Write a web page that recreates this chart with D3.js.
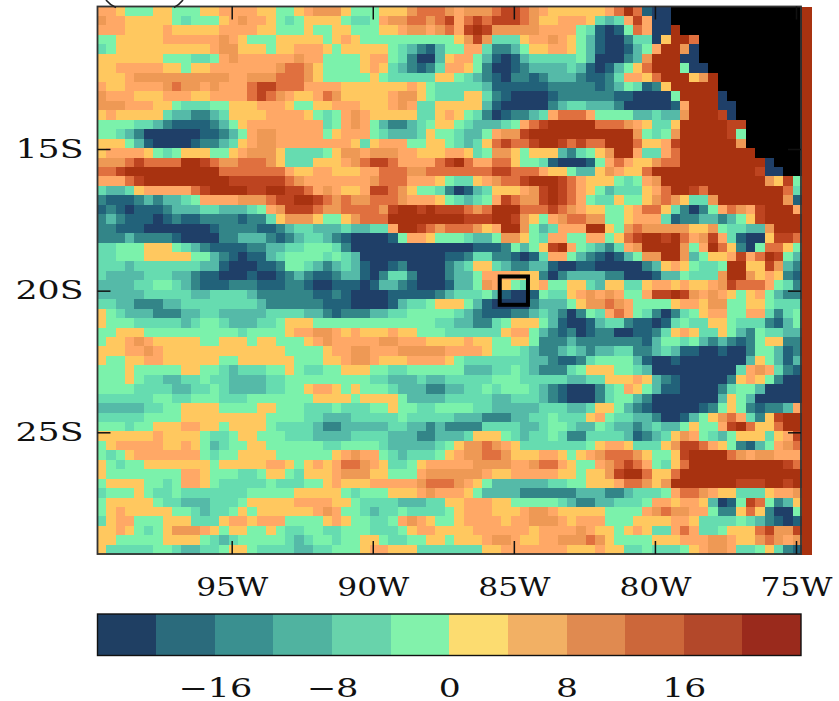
<!DOCTYPE html>
<html>
<head>
<meta charset="utf-8">
<script src="https://cdn.jsdelivr.net/npm/d3@7"></script>
<style>
html,body{margin:0;padding:0;background:#fff;overflow:hidden}
svg{display:block}
text{font-family:"DejaVu Serif","Liberation Serif",serif;fill:#111}
</style>
</head>
<body>
<svg id="chart" width="839" height="701"></svg>
<script>
// Class codes: A..L = the 12 colour classes of the chart, # = land (no data)
const classCodes = "ABCDEFGHIJKL".split("");
const classValues = [-22,-18,-14,-10,-6,-2,2,6,10,14,18,22];
const levelBreaks = [-20,-16,-12,-8,-4,0,4,8,12,16,20];
const mapColors = ["#1f3f68","#22627a","#338588","#55baa8","#66dcb0","#7bf2ab","#ffc85f","#ffa866","#ee9955","#e0703f","#bd4420","#a83210"];
const barColors = ["#1f3f63","#2b6b7c","#3a9090","#50b3a0","#68d3ab","#82f2ab","#fcdc70","#f2b064","#e08a50","#cc673a","#b3482a","#9a2a1c"];
const lonTicks = [-95,-90,-85,-80,-75];
const latTicks = [-15,-20,-25];
const barTicks = [-16,-8,0,8,16];
const boxCentre = [-85,-20];
const cellStep = 1/3;
const westEdge = -99.78;
const northEdge = -9.97;
const gridRows = [
"HHGFFFGGFFFGGHHHHGGFFGHIIIGFFFGGGIJJJIHIIIJKKJIHGGGGGGHJLJBAA##############L",
"IHHGGGGGFEFFFGHIHHGFEFGGGGFEEFHIIJJIJKHJKJKKKJIGGHHHGEDEHKHAA##############L",
"HHHGGGGHGGGGGHHHHGGFFFGFFGGFFFGGHIIHIJHKLKIIIIIHHHHFEBABFJHAAL#############L",
"FFGGGGGHHHHHHIHGFFFGGGGGFGHGFFFFFFFFFFGIKIEEEGHHIHGFDBAACEEAGLLJ###########L",
"EFGGGGGGGGGGHIIGGGFGGHHHGFGGGGGFEDCBDFFHHECCDFGGHHGFDBAABDFHLLIA###########L",
"GGGGGGGFFFEEFHIHHHHHHIHHFFFFGHHFECAADGHHFDBABDEEEEEFDAAACDILLLAA###########L",
"GGHHHHHGGFGGHHHHHHHIJJIGFFFFGHGEDCBCEHHGFCAABCDDDDEDBABDFGJLLLFAA##########L",
"GGGHIIIIIIIIIIHHIIIJJJIGFFFFFGFEEEEEGGFEDCBACCBCDDDCBBCEHHGJLLLGIL#########L",
"HGGHHHHIJIIHIHHHJKKJJJHHHHGGGGGGGHGFEEEEEDBBBBBBCCCCCBCDFEBCGLLLLL#########L",
"IHHHGGGHHHGGHHHHJKJIHGGHJIGGGGGHIIGFEEEGGECBAAAABCCCCCCBBAAAAFLLLLA########L",
"IIIHHHGGFEEEFFGGGHHHGFFGGHHHGGGHIHEEGGGGGDBAAAAACDEEDDDCAAAAABHLLLAA#######L",
"GHGGGGGEDDCCDEGGGGHHHHGFEFHIHGGGGGEEGHGFECABCCDEHJJJHFFFFDDEDDILLLKA#######L",
"FFFFEEDCBBBBCDFGHHHHHHHHEFHIHFDCCDEFGGFEDDDEFHJKLLLLLJJJIHGEEGLLLLLKK######L",
"FFEDCAAAAAABBCDFHIIHHHHHFGHHHFEDDDEGFFEDDFHIIKLLLLLLLLLLLIFEFILLLLLKF######L",
"GGGFDBAAAABCCDEGHIIHHHHHHHHGEGHHHFFGGFEDEGJKJJKLLKJKJJLLLJGGHKLLLLLLI######L",
"GHHHHGFEFGGGFFGHIIIGEEEEFGIIHIIIHHGGGHHGEFIIGFGGGDCEFGILLHEEHJLLLLLLLL#####L",
"IIIJKJJJJLLKJIIJJJIGEEEGGGHIJKKJHHHHJKLJHHJJGFFEBAAABFHJHGGIJJLLLLLLLLLA###L",
"JJKLLLLLLLLLLJJJJJJJHGGHHGGGHHJJJIIJJJJJJJKKJJJHGGFDDGIHGGJLLLLLLLLLLLKAA##L",
"HHHJKLLLLLLLLLKKKKKKJIHHHHHHHIJJJHHHGFEEGHIJJKLLLKJHGGGFEFHILLLLLLLLLLLIGKFL",
"EDDEGHHHHHJKLLLLKKLLKKJHIHGGHKKJIGFFECABDEGGGHIKLKJHGFDEEEGHJLLKJLLLLLLLLJEL",
"CBBBCDCDDEFHHHHIIIJKKLLKJIJIIJJJIHHHGFEDEFHKJIIKLKJHFEEGFFGIJIGEEILLLLLLLIBL",
"BCBABBBCDDDEEDDDEFHIKKKJIIJJJJIKLLKLKKKJIJLLLJJJKJIHGGFFGHJJGECACFHJIHKLLLHL",
"CDCBBBABCBBCCCCBCCEGIIIGFFGIJJJLLLLLLLLKKKLLKIGFHIJJIIFFGHHHEBCCDDCDFGKLLLLL",
"CCBBBAAAAAAABCCCCBBCDEEDDDEDDEEHLLKJIJJJIGHLLIFDEHHHLLGFIJIIIIIGGIFEEDDILLLL",
"CCCDCCCCBAAAACCDDDCBCDEEDCBAAAABFHHGFFFEDDFIIGFEHHFFHHFGJKLLKLJHIKHEBAAGKKJL",
"EEFFFGGGFEDCBBBBCCDDEEFFFECAAAAAAAAAAAAABBBCFDFGKLHFEDCEHILLLLIFHLJGCAFJJGFL",
"EEFFFGGGGGFFDCBABBDEFFFFEFEDAAAAAAAAABBCEECCBABEHHFDCBABDFIILLIDFGGHKHJLKFDL",
"EEEDEEEEEEEDDBAAABBCFFEDCDEDBAABCAAAACDEGGEDCCDDBAABBAAAAACDGHGFEEFLLGGKIDCL",
"EDDDDEEEDDCBBAAABAABCDCBBCDDBACEECAAACDDFHHHHGGCACDDDDCCAAABDDFEEEILLIGHGCBL",
"DDDDEEFFEDCBBBCCCBBBCCBAABBBABDDCBAAABDDFIHGFEGHFFGGEDGGEEGHHGHGGHIKJJJHFECL",
"DDDDDEEEEEDDEEEEDCCCCCCBBCBAAAABBBBBCDEEEFDBAABFEEGHIHIHFFHKKLKIHIHGFGHFDCCL",
"EEDDCCCDDEEEEEEEEDCCCCCCBBBAAAABDEEFGGGFDBAAAACDDDFGIIJIHFFFFGHHGIIFFGGFEEEL",
"GFEDDDCCCDDEEDDDDDEEEEDDCBCCCDDEEFFFFFEDCBBBCCDEDCACFEHJHFECACEFGHHFFHHECEFL",
"GFFFEEEEEDEFFEDDDEEFGGGFFFFFFFFFFFFFEEDDCCEFGGGFDBAABDEECBBABEFEEGGFEEECBDFL",
"FFGGGFFFFFFFFFFEFFFFGHHIIHGHGGGHGGFFFEEEEEEGHHFDCBCABCCAABBCEGHGEEGFDCFEEDDL",
"FGGHIHGGGGGFFGGGFGGFFFGHIHHHHHIIHHHGGGGHGGFFGGFCCCDCCCCCCCBDFFEFDCDCBCFGGCCL",
"GGGHHIHGGGGGGGGGGGGGFFFFGHHIIHHHIIIIIHHHHGFFFEDCCDEDCDDEECCDEDBBAABAACFFDBCL",
"GFFGGHHGGGGGGFFGGGGGGFFFGGHIIHGGGHHHHGFEEEEEEEDDCBBCEFFFFDBAABAAAAAAADGFDBDL",
"FFFGFFFFFGGFFEDEEEFFGFEEFFGGGFFEEFFFFFFDDDEEFEDCCCEFGGGFFEDAAAAAAAAAEHIHECBL",
"FFFGFEEDDEEFEEDDDDEEFFFFFFFFFEEDDDEDDEEEEEFFFEEEEEDDEEGGGHGDCBAAAAACGHGFCAAL",
"FFFFEEEEDDEEFEDDDDEEFFGHHGFGFFFEDDDCCDDEEFEFFFEDCBAAACEFHGFDBBAAAACEFFDAAAAL",
"EEEEEEFFEEFFFEEEFFFFFFFGGGGFGGGGFDDDDEEEEEDDEEEDCBAAACEFFDCAAAAAAADGFDAAAAAL",
"DDDDDEEFFGGGGFFFFGGFFFEEEFEEEFFGFFEEFFFFEEDDDDDEEEDDEGGFDCBAAAAABCFGFCBCCDHL",
"EEEEEFFFFGGGGGGGGGFFFFEEDDDEEEEEFEEEEEDDDCCCDDEEFEEEGHFEEDDCAABDFGIJHECGKLLL",
"FFFEFFGGGHHGGFGGGGFEEEEDCCDDDDDEEDDCDCCCCEEEEDDEFFEDDFEDDCDEDDFGFFHKLJGGJLLL",
"GGGGGGHGGGGFEEFGGFFFEEEDDDDEEEEDDDCCDDDEGGGFEDEEFECCEEEEDBCDEGIHFEDFGGGEGHKL",
"FGHHHHHGGHGFDEFFGGFFFFFFEEFFFFEDDDDDEFGIIJIHGEEEEEEEFGHHGEEEGIKKJHGFCBDFHIJL",
"FEFGHHHHHHHFEFFGGGGFFFFFFGHIHHFEDEEEFGHIIJJIGGGHHGFGHIJJJIGFFGKLLLLJIHIIHHHL",
"GFEFFGGGGGGGFGGGGGHHGFGHGHJJIHGEEFGHHHHHIIIIHHIJJHGFFHIJKJHFEGJLLLLLLLLLLKJL",
"GFFFFFFFFHHGFFFEEFGGFEGGGHIIIGGFFFHIIIIIIHGGHHHHHGGFGGIKLLJGGJLLLLLLLLLLLLLL",
"FGGGGFFEFHHGFEEEEEFEEEFFGHGGGHHHHHIJJJIHGFDDDDDDEEFFGGGHJJIGILLLLLLLKKKLLKLL",
"EFFFGFEEFEEEEEEEFFFFFGGGGGFEFFFGGGHIHHHGFDDDDCCCCCCDDDCCDEEEFHJJIHGGEEEGHHIL",
"FGGGGGFEEDDDEEEFGGGGGHHHHGGFEEEEDDDEEGGHHHGGFFFFFEDCCDDEEEFHHGHHGDABFKJFCDGL",
"FGHGGGGGFFEDEEFGFGGGGGGHIHFFEDEEFEEEEFGHHHGGGHIIHGGGGGFFFFHIJIIHHFCCGJGCAAFL",
"EGHHFFFGGGEEEGHHGHHHFFFFGHGFFEEFHIHGFFGHHHHGHHIIIHGHHHFFFGGGGHHGEEEEFEDCBABL",
"GGHGFEFGIIIHGFGGFFGFEEFFEEFFFEEEFGHHGGGGHHHHHHGHHHHIHGGFGHGEEHJHEEFGGGJKIIKL",
"GGFFFFFGGGGFEDEFFFFFEDEFFEFFGGFEEFFGGFGGGHIIHGGHHIIIJIGFFFFGGGHHHIIHGGIJIHIL",
"GEEEEEFFEDDEEFGGFEEEEDDEEFFFGHHGGGEEEEEEEGGHHHHHHHGGGHGGEEFEEEFGHIIHEEFGECBL"
];

const gridValues = gridRows.map(r => Array.from(r, c => {
  const k = classCodes.indexOf(c);
  return k < 0 ? null : classValues[k];
}));

const svg = d3.select("#chart");
const lon = d3.scaleLinear().domain([-95,-75]).range([231.7,796]);
const lat = d3.scaleLinear().domain([-15,-25]).range([149,432.3]);
const mapColor = d3.scaleThreshold().domain(levelBreaks).range(mapColors);
const frameL = 97.5, frameR = 801, frameT = 6.5, frameB = 554;

const labelWidth = s => Array.from(s).reduce((w,c) => w + (c==="W"?28:c==="S"?24:c==="\u2212"?30:22), 0);
const fitLabels = sel => sel.selectAll(".tick text")
  .attr("font-size",25.5)
  .attr("textLength",function(){return labelWidth(this.textContent);})
  .attr("lengthAdjust","spacingAndGlyphs");

// cells
const cells = gridValues.flatMap((row,r) => row.map((v,c) => ({r,c,v})));
svg.append("g").attr("shape-rendering","crispEdges").style("filter","blur(0.4px)")
  .selectAll("rect").data(cells).join("rect")
  .attr("x",d => lon(westEdge + d.c*cellStep))
  .attr("y",d => lat(northEdge - d.r*cellStep))
  .attr("width",d => lon(westEdge + (d.c+1)*cellStep) - lon(westEdge + d.c*cellStep) + 0.4)
  .attr("height",d => lat(northEdge - (d.r+1)*cellStep) - lat(northEdge - d.r*cellStep) + 0.4)
  .attr("fill",d => d.v === null ? "#000" : mapColor(d.v));

// frame
svg.append("rect").attr("x",frameL).attr("y",frameT)
  .attr("width",frameR-frameL).attr("height",frameB-frameT)
  .attr("fill","none").attr("stroke","#333").attr("stroke-width",1.8);

// ticks inside frame, on all four sides
const tickLen = 13;
const tickLine = g => g.selectAll("line").attr("stroke","#111").attr("stroke-width",1.5);
svg.append("g").attr("transform",`translate(0,${frameB})`)
  .call(d3.axisBottom(lon).tickValues(lonTicks).tickSize(-tickLen).tickPadding(0).tickFormat(d => Math.abs(d)+"W"))
  .call(g => g.select(".domain").remove()).call(tickLine)
  .call(g => g.selectAll("text").attr("dy",0).attr("y",42))
  .call(fitLabels);
svg.append("g").attr("transform",`translate(0,${frameT})`)
  .call(d3.axisTop(lon).tickValues(lonTicks).tickSize(-tickLen).tickFormat(""))
  .call(g => g.select(".domain").remove()).call(tickLine);
svg.append("g").attr("transform",`translate(${frameL},0)`)
  .call(d3.axisLeft(lat).tickValues(latTicks).tickSize(-tickLen).tickPadding(14).tickFormat(d => Math.abs(d)+"S"))
  .call(g => g.select(".domain").remove()).call(tickLine)
  .call(fitLabels);
svg.append("g").attr("transform",`translate(${frameR},0)`)
  .call(d3.axisRight(lat).tickValues(latTicks).tickSize(-tickLen).tickFormat(""))
  .call(g => g.select(".domain").remove()).call(tickLine);

// marker box
svg.append("rect")
  .attr("x",lon(boxCentre[0]-0.5)).attr("y",lat(boxCentre[1]+0.5))
  .attr("width",lon(boxCentre[0]+0.5)-lon(boxCentre[0]-0.5))
  .attr("height",lat(boxCentre[1]-0.5)-lat(boxCentre[1]+0.5))
  .attr("fill","none").attr("stroke","#000").attr("stroke-width",4);

// clipped bracket of the title above the frame
svg.append("path").attr("d","M106,0Q110,5 116,7.5").attr("fill","none").attr("stroke","#222").attr("stroke-width",1.6);
svg.append("path").attr("d","M183,0Q179,5 174,7.5").attr("fill","none").attr("stroke","#222").attr("stroke-width",1.6);

// colour bar
const barScale = d3.scaleLinear().domain([-24,24]).range([97.5,801]);
const barTop = 614, barBottom = 655.5;
const barEdges = [-24,...levelBreaks,24];
svg.append("g").attr("shape-rendering","crispEdges")
  .selectAll("rect").data(barColors).join("rect")
  .attr("x",(d,i) => barScale(barEdges[i]))
  .attr("y",barTop)
  .attr("width",(d,i) => barScale(barEdges[i+1]) - barScale(barEdges[i]) + 0.4)
  .attr("height",barBottom-barTop)
  .attr("fill",d => d);
svg.append("rect").attr("x",barScale(-24)).attr("y",barTop)
  .attr("width",barScale(24)-barScale(-24)).attr("height",barBottom-barTop)
  .attr("fill","none").attr("stroke","#111").attr("stroke-width",1.4);
svg.append("g").attr("transform",`translate(0,${barBottom})`)
  .call(d3.axisBottom(barScale).tickValues(barTicks).tickSize(0).tickFormat(d => d<0 ? "\u2212"+Math.abs(d) : String(d)))
  .call(g => g.select(".domain").remove())
  .call(g => g.selectAll("text").attr("dy",0).attr("y",41))
  .call(fitLabels);
</script>
</body>
</html>
